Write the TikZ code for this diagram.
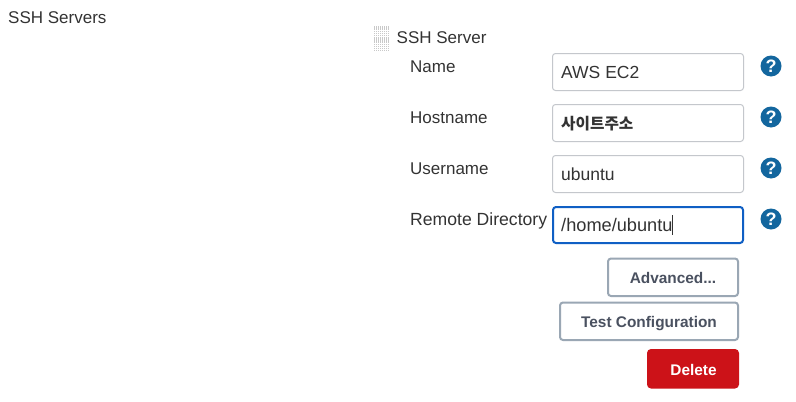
\documentclass[tikz,border=0pt]{standalone}
\usepackage{fontspec}
\setmainfont{Liberation Sans}
\newfontfamily\cjk{Noto Sans CJK KR}
\definecolor{txt}{HTML}{333333}
\definecolor{inborder}{HTML}{C4C7CC}
\definecolor{focusb}{HTML}{0F5FC4}
\definecolor{btnb}{HTML}{9AA7B4}
\definecolor{btnt}{HTML}{4A5160}
\definecolor{helpc}{HTML}{13669E}
\definecolor{red}{HTML}{CC1218}
\tikzset{
  x=1pt,y=-1pt,
  lbl/.style={anchor=base west,inner sep=0pt,text=txt,font=\fontsize{17}{20}\selectfont},
  field/.style={draw=inborder,line width=1pt,rounded corners=3pt,fill=white},
  focusfield/.style={draw=focusb,line width=2pt,rounded corners=3pt,fill=white},
  val/.style={anchor=base west,inner sep=0pt,text=txt,font=\fontsize{17.5}{20}\selectfont},
  btn/.style={draw=btnb,line width=2pt,rounded corners=3pt,fill=white},
  btntxt/.style={anchor=base,inner sep=0pt,text=btnt,font=\fontsize{15.4}{17}\selectfont\bfseries},
  helpdot/.style={circle,fill=helpc,minimum size=21pt,inner sep=0pt,text=white,font=\fontsize{18}{18}\selectfont\bfseries},
}
\begin{document}
\begin{tikzpicture}
\useasboundingbox (0,0) rectangle (796,402);
\fill[white] (0,0) rectangle (796,402);
\node[lbl] (title) at (8,23.5) {SSH Servers};
\foreach \i in {0,...,7} \foreach \j in {0,...,13}
  \fill[gray!42] (373.5+\i*2,25.5+\j*1.85) rectangle +(1.3,1.2);
\node[lbl] (server) at (396.5,43) {SSH Server};
\node[lbl] (lname) at (410,72) {Name};
\node[lbl] (lhost) at (410,123) {Hostname};
\node[lbl] (luser) at (410,174) {Username};
\node[lbl,font=\fontsize{17.6}{20}\selectfont] (ldir) at (410,225) {Remote Directory};
\draw[field] (552.5,53.5) rectangle (743.5,90.5);
\draw[field] (552.5,104.5) rectangle (743.5,141.5);
\draw[field] (552.5,155.5) rectangle (743.5,192.5);
\draw[focusfield] (553,207) rectangle (743,243);
\node[val] (v1) at (561,78.5) {AWS EC2};
\node[val,font=\fontsize{15.7}{18}\selectfont\cjk\bfseries] (v2) at (561,129) {사이트주소};
\node[val] (v3) at (561,180.5) {ubuntu};
\node[val,font=\fontsize{18.2}{20}\selectfont] (v4) at (561,231.5) {/home/ubuntu};
\draw[txt,line width=0.8pt] (672.5,215) -- (672.5,235);
\node[helpdot] (h1) at (771,66) {?};
\node[helpdot] (h2) at (771,117) {?};
\node[helpdot] (h3) at (771,168) {?};
\node[helpdot] (h4) at (771,219) {?};
\draw[btn] (608,258.5) rectangle (738,296);
\node[btntxt] (b1) at (673,283) {Advanced...};
\draw[btn] (560,302.5) rectangle (738,340);
\node[btntxt] (b2) at (649,327) {Test Configuration};
\fill[red,rounded corners=4pt] (647,349) rectangle (739,388.5);
\node[btntxt,text=white] (b3) at (693.5,375) {Delete};
\end{tikzpicture}
\end{document}
